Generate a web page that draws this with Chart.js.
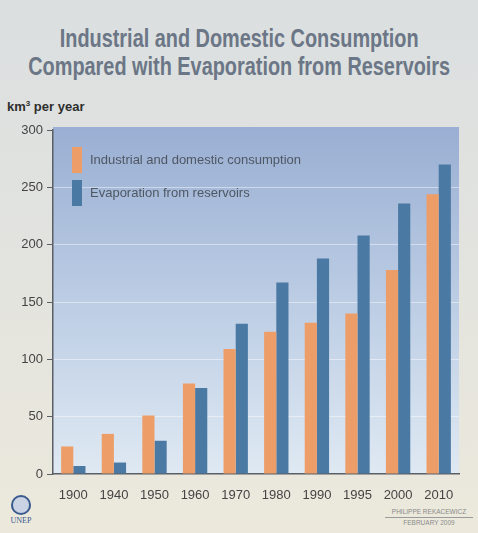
<!DOCTYPE html>
<html>
<head>
<meta charset="utf-8">
<script src="https://cdn.jsdelivr.net/npm/chart.js@4"></script>
<style>
  html, body { margin: 0; padding: 0; }
  body {
    width: 478px; height: 533px; position: relative; overflow: hidden;
    background: linear-gradient(to bottom, #dbdfe0 0%, #e2e3df 45%, #ece9dc 100%);
    font-family: "Liberation Sans", Arial, sans-serif;
  }
  #title {
    position: absolute; left: -100px; top: 24px; width: 678px; text-align: center;
    white-space: nowrap; transform: scaleX(0.795); transform-origin: 340px 0;
    font-weight: bold; font-size: 25px; line-height: 28px; color: #6b7686;
  }
  #unit {
    position: absolute; left: 7px; top: 99px; font-size: 13px; font-weight: bold; color: #2e2e2e;
  }
  #unit sup { font-size: 8px; vertical-align: 5px; }
  #credit {
    position: absolute; right: 5px; top: 507px; width: 88px; text-align: center;
    font-size: 6.5px; color: #8a8a8a; line-height: 9px;
  }
  #credit .l1 { border-bottom: 1px solid #9a9a9a; padding-bottom: 1px; }
  #logo {
    position: absolute; left: 6px; top: 495px; width: 30px; text-align: center;
    font-family: "Liberation Serif", serif; font-size: 8px; color: #3b5a8e;
  }
  #logo .em {
    width: 20px; height: 20px; margin: 0 auto 1px; border-radius: 50%;
    border: 2px solid #3b5a8e; box-sizing: border-box; background: #c9d3e3;
  }
  canvas { position: absolute; left: 0; top: 0; }
</style>
</head>
<body>
<div id="title">Industrial and Domestic Consumption<br>Compared with Evaporation from Reservoirs</div>
<div id="unit">km<sup>3</sup> per year</div>
<div id="logo"><div class="em"></div>UNEP</div>
<div id="credit"><div class="l1">PHILIPPE REKACEWICZ</div><div>FEBRUARY 2009</div></div>
<canvas id="c" width="478" height="533"></canvas>
<script>
const years = ['1900', '1940', '1950', '1960', '1970', '1980', '1990', '1995', '2000', '2010'];
const consumption = [24, 35, 51, 79, 109, 124, 132, 140, 178, 244];
const evaporation = [7, 10, 29, 75, 131, 167, 188, 208, 236, 270];
const seriesNames = ['Industrial and domestic consumption', 'Evaporation from reservoirs'];
const seriesColors = ['#ed9e68', '#4a79a3'];

// plot background gradient
const plotBg = {
  id: 'plotBg',
  beforeDraw(chart) {
    const { ctx, chartArea: a } = chart;
    const g = ctx.createLinearGradient(0, a.top, 0, a.bottom);
    g.addColorStop(0, '#9aafd3');
    g.addColorStop(0.5, '#bccde4');
    g.addColorStop(1, '#dfe9f3');
    ctx.save();
    ctx.fillStyle = g;
    ctx.fillRect(a.left, a.top - 3, a.right - a.left, a.bottom - a.top + 3);
    ctx.restore();
  }
};

// legend drawn inside the plot area
const innerLegend = {
  id: 'innerLegend',
  afterDraw(chart) {
    const { ctx, chartArea: a } = chart;
    ctx.save();
    ctx.font = '13px "Liberation Sans", Arial, sans-serif';
    ctx.textBaseline = 'middle';
    chart.data.datasets.forEach((ds, i) => {
      const y = a.top + 17 + i * 33;
      ctx.fillStyle = ds.backgroundColor;
      ctx.fillRect(a.left + 19, y, 10, 26);
      ctx.fillStyle = '#4f5763';
      ctx.fillText(ds.label, a.left + 37, y + 13);
    });
    ctx.restore();
  }
};

new Chart(document.getElementById('c'), {
  type: 'bar',
  data: {
    labels: years,
    datasets: [
      { label: seriesNames[0], data: consumption, backgroundColor: seriesColors[0] },
      { label: seriesNames[1], data: evaporation, backgroundColor: seriesColors[1] }
    ]
  },
  options: {
    responsive: false,
    animation: false,
    layout: { padding: { top: 130, right: 19, bottom: 0, left: 0 } },
    datasets: { bar: { categoryPercentage: 0.6, barPercentage: 1.0 } },
    scales: {
      x: {
        grid: { display: false },
        border: { display: true, color: '#5a5f66', width: 1.5 },
        ticks: { color: '#444', font: { size: 13, family: '"Liberation Sans", Arial, sans-serif' }, padding: 6 },
        afterFit(s) { s.height = 59; }
      },
      y: {
        min: 0, max: 300,
        ticks: { stepSize: 50, color: '#444', padding: 4, font: { size: 13, family: '"Liberation Sans", Arial, sans-serif' } },
        grid: {
          color: c => (c.tick.value === 0 || c.tick.value === 300) ? 'rgba(0,0,0,0)' : 'rgba(255,255,255,0.45)',
          tickColor: '#5a5f66',
          tickLength: 6,
          lineWidth: 1
        },
        border: { display: true, color: '#5a5f66', width: 1.5 },
        afterFit(s) { s.width = 53; }
      }
    },
    plugins: {
      legend: { display: false },
      tooltip: { enabled: false }
    }
  },
  plugins: [plotBg, innerLegend]
});
</script>
</body>
</html>
